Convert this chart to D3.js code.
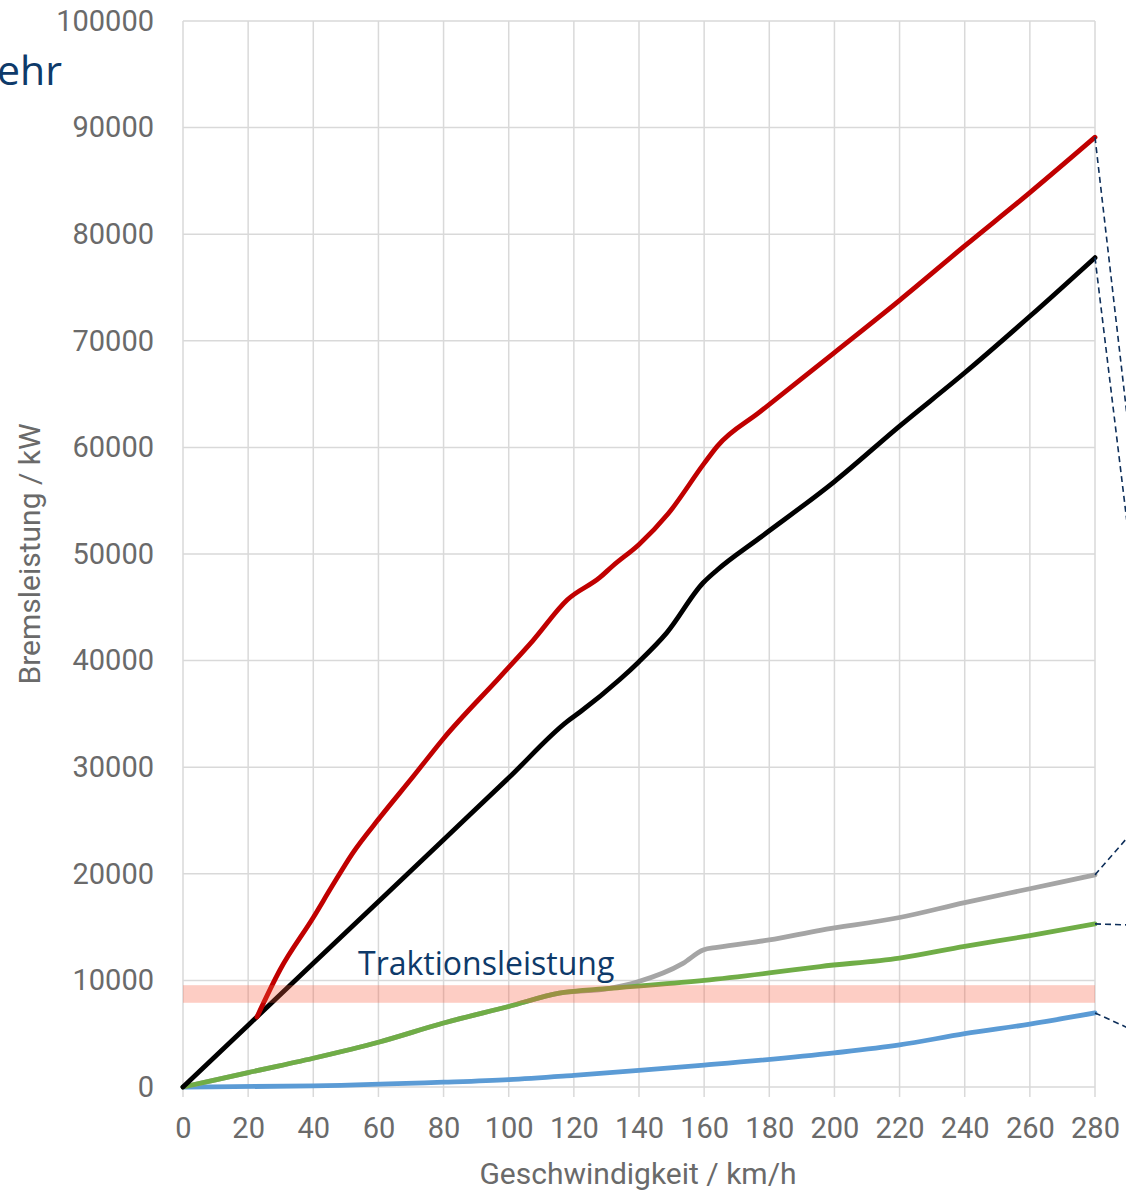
<!DOCTYPE html>
<html>
<head>
<meta charset="utf-8">
<script src="https://cdn.jsdelivr.net/npm/d3@7"></script>
<style>
  html, body { margin: 0; padding: 0; background: #fff; overflow: hidden; }
  svg { display: block; }
</style>
</head>
<body>
<svg id="chart" width="1126" height="1192"></svg>
<script>
"use strict";

// Speed ticks (km/h) and power ticks (kW)
const xTicks = d3.range(0, 281, 20);
const yTicks = d3.range(0, 100001, 10000);

// Curves as [speed, power] pairs
const redSeries = [
    [22.7, 6570], [29.8, 11000], [40, 15900], [45.7, 18800], [52, 21900],
    [60.5, 25300], [70.6, 29100], [80, 32700], [97.4, 38500], [107.5, 41900],
    [118, 45700], [128, 47800], [132, 48900], [140, 50900], [149, 53800],
    [160, 58500], [164, 60100], [177, 63300], [200, 68900], [220, 73800],
    [240, 78900], [260, 83900], [280, 89100]
];
const blackSeries = [
    [0, 0], [40, 11600], [80, 23200], [100, 29000], [118, 34300], [122, 35200],
    [134, 38200], [140, 39900], [148.5, 42600], [159.7, 47300], [164, 48500],
    [177, 51500], [200, 56800], [220, 62000], [240, 67000], [260, 72300],
    [280, 77800]
];
const greySeries = [
    [0, 0], [20, 1350], [40, 2700], [60, 4200], [80, 6000], [100, 7550],
    [115.5, 8800], [131, 9250], [139.4, 9850], [153.5, 11600], [159.7, 12850],
    [164, 13100], [180, 13800], [195.6, 14700], [220, 15900], [240, 17300],
    [260, 18600], [280, 19900]
];
const greenSeries = [
    [0, 0], [20, 1350], [40, 2700], [60, 4200], [80, 6000], [100, 7550],
    [115.5, 8800], [131, 9250], [160, 10000], [180, 10700], [195.6, 11300],
    [220, 12100], [240, 13200], [260, 14200], [280, 15300]
];
const blueSeries = [
    [0, 0], [40, 100], [80, 450], [100, 700], [120, 1100], [140, 1550],
    [160, 2050], [200, 3200], [220, 3950], [240, 5000], [260, 5900], [280, 6950]
];

// Traction power band (kW)
const tractionBand = [7900, 9550];

// Drawing order: grey stays under green where they coincide
const seriesList = [
    { name: 'blue',  data: blueSeries,  color: '#5b9bd5' },
    { name: 'grey',  data: greySeries,  color: '#a5a5a5' },
    { name: 'green', data: greenSeries, color: '#70ad47' },
    { name: 'black', data: blackSeries, color: '#000000' },
    { name: 'red',   data: redSeries,   color: '#c00000' }
];

// Callout leaders leave the plot to labels outside the picture (px offsets)
const leaderOffsets = { red: [33, 287], black: [33, 273], grey: [33, -38], green: [33, 1], blue: [33, 15] };

const svg = d3.select('#chart');
const plot = { left: 183, right: 1095, top: 21, bottom: 1087 };

const x = d3.scaleLinear().domain([0, 280]).range([plot.left, plot.right]);
const y = d3.scaleLinear().domain([0, 100000]).range([plot.bottom, plot.top]);

const tickFont = 'Roboto, "Liberation Sans", sans-serif';
const labelColor = '#6a6a6a';

// Grid
const grid = svg.append('g').attr('class', 'grid')
    .attr('stroke', '#d9d9d9').attr('stroke-width', 1.5);
grid.selectAll('line.v').data(xTicks).enter().append('line')
    .attr('class', 'v')
    .attr('x1', d => x(d)).attr('x2', d => x(d))
    .attr('y1', plot.top).attr('y2', plot.bottom + 10);
grid.selectAll('line.h').data(yTicks).enter().append('line')
    .attr('class', 'h')
    .attr('x1', plot.left).attr('x2', plot.right)
    .attr('y1', d => y(d)).attr('y2', d => y(d));

// Axes (labels only, Excel style)
const xAxis = svg.append('g')
    .attr('transform', `translate(0, ${plot.bottom + 30})`)
    .call(d3.axisBottom(x).tickValues(xTicks).tickSize(0).tickPadding(0));
const yAxis = svg.append('g')
    .attr('transform', `translate(${plot.left - 29}, 0)`)
    .call(d3.axisLeft(y).tickValues(yTicks).tickSize(0).tickPadding(0).tickFormat(d3.format('d')));
[xAxis, yAxis].forEach(a => {
    a.select('.domain').remove();
    a.selectAll('text')
        .attr('fill', labelColor)
        .style('font-family', tickFont)
        .style('font-size', '29px');
});

// Lines
const line = d3.line()
    .x(d => x(d[0]))
    .y(d => y(d[1]))
    .curve(d3.curveMonotoneX);

svg.append('g').attr('class', 'lines')
    .selectAll('path')
    .data(seriesList)
    .enter().append('path')
        .attr('fill', 'none')
        .attr('stroke', d => d.color)
        .attr('stroke-width', 4.8)
        .attr('stroke-linejoin', 'round')
        .attr('stroke-linecap', 'round')
        .attr('d', d => line(d.data));

// Traction band, drawn translucent over the lines
svg.append('rect')
    .attr('x', plot.left)
    .attr('width', plot.right - plot.left)
    .attr('y', y(tractionBand[1]))
    .attr('height', y(tractionBand[0]) - y(tractionBand[1]))
    .attr('fill', '#f8593b')
    .attr('fill-opacity', 0.3);

svg.append('text')
    .attr('x', 358).attr('y', 975)
    .attr('fill', '#0e3a6a')
    .style('font-family', '"Open Sans", sans-serif')
    .style('font-size', '32px')
    .text('Traktionsleistung');

// Dashed leaders to labels outside the frame
svg.append('g').attr('class', 'leaders')
    .selectAll('line')
    .data(seriesList)
    .enter().append('line')
        .attr('x1', d => x(d.data[d.data.length - 1][0]))
        .attr('y1', d => y(d.data[d.data.length - 1][1]))
        .attr('x2', d => x(d.data[d.data.length - 1][0]) + leaderOffsets[d.name][0])
        .attr('y2', d => y(d.data[d.data.length - 1][1]) + leaderOffsets[d.name][1])
        .attr('stroke', '#0e2f5a')
        .attr('stroke-width', 1.6)
        .attr('stroke-dasharray', '6,4');

// Axis titles
svg.append('text')
    .attr('transform', `translate(40, 554) rotate(-90)`)
    .attr('text-anchor', 'middle')
    .attr('fill', labelColor)
    .style('font-family', tickFont)
    .style('font-size', '30px')
    .text('Bremsleistung / kW');

svg.append('text')
    .attr('x', 638).attr('y', 1184)
    .attr('text-anchor', 'middle')
    .attr('fill', labelColor)
    .style('font-family', tickFont)
    .style('font-size', '30px')
    .text('Geschwindigkeit / km/h');

// Slide title fragment cut off at the left edge
svg.append('text')
    .attr('x', 62).attr('y', 85)
    .attr('text-anchor', 'end')
    .attr('fill', '#0e3a6a')
    .style('font-family', '"Open Sans", sans-serif')
    .style('font-size', '41px')
    .text('ehr');
</script>
</body>
</html>
